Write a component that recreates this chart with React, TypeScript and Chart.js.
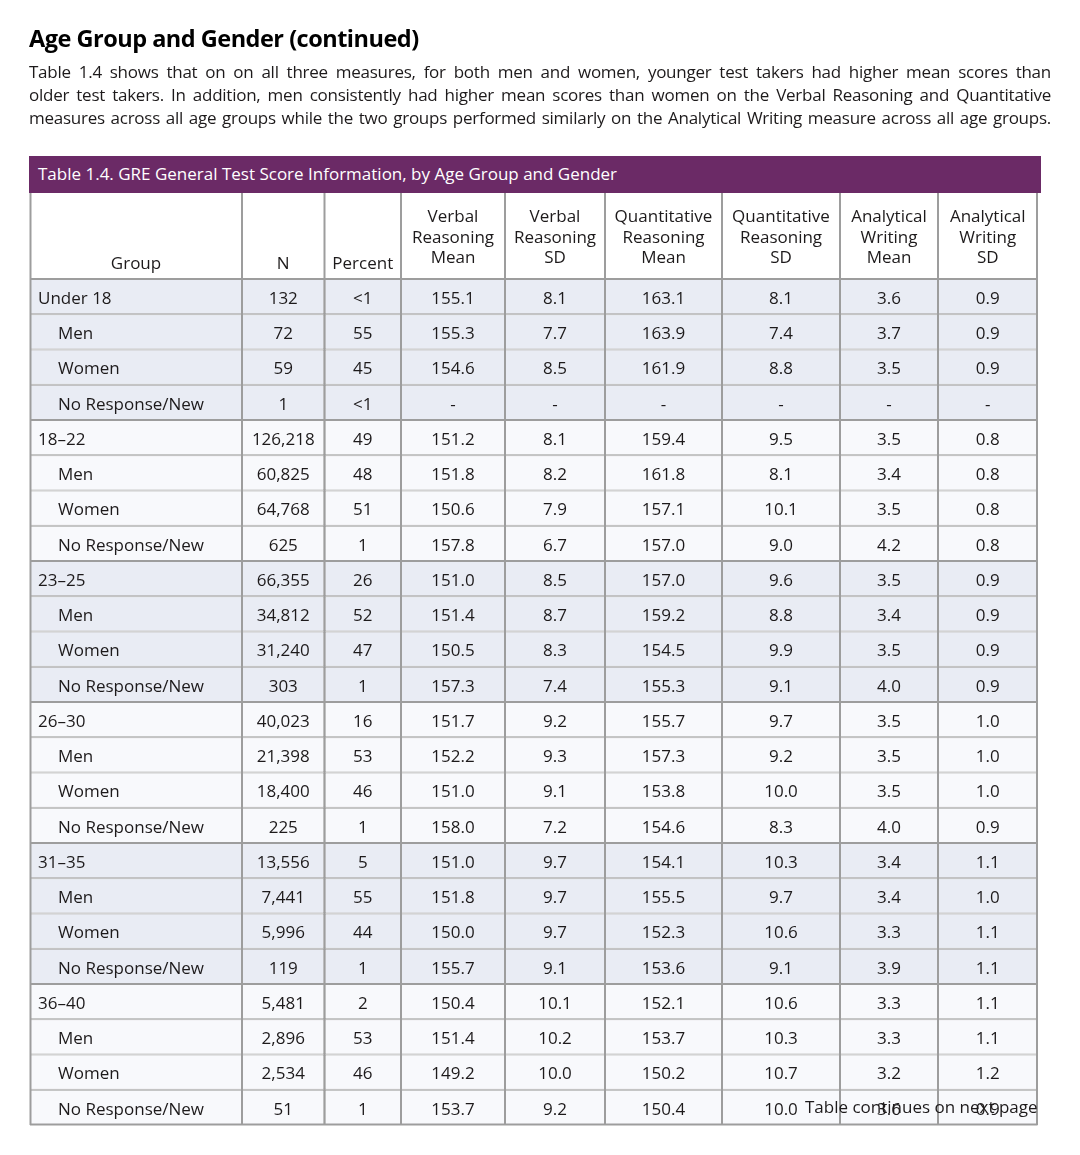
import React, { useEffect, useRef } from 'react';
import { Chart, registerables } from 'chart.js';

Chart.register(...registerables);

// ---------- text ----------
const TITLE = 'Age Group and Gender (continued)';
const PARAGRAPH = [
  'Table 1.4 shows that on on all three measures, for both men and women, younger test takers had higher mean scores than',
  'older test takers. In addition, men consistently had higher mean scores than women on the Verbal Reasoning and Quantitative',
  'measures across all age groups while the two groups performed similarly on the Analytical Writing measure across all age groups.',
];
const TABLE_TITLE = 'Table 1.4. GRE General Test Score Information, by Age Group and Gender';
const FOOT_NOTE = 'Table continues on next page';

// ---------- data ----------
const HEADERS = [
  ['Group'],
  ['N'],
  ['Percent'],
  ['Verbal', 'Reasoning', 'Mean'],
  ['Verbal', 'Reasoning', 'SD'],
  ['Quantitative', 'Reasoning', 'Mean'],
  ['Quantitative', 'Reasoning', 'SD'],
  ['Analytical', 'Writing', 'Mean'],
  ['Analytical', 'Writing', 'SD'],
];

const GROUPS = [
  'Under 18', 'Men', 'Women', 'No Response/New',
  '18–22', 'Men', 'Women', 'No Response/New',
  '23–25', 'Men', 'Women', 'No Response/New',
  '26–30', 'Men', 'Women', 'No Response/New',
  '31–35', 'Men', 'Women', 'No Response/New',
  '36–40', 'Men', 'Women', 'No Response/New',
];
const SUB_ROWS = ['Men', 'Women', 'No Response/New'];

const N = [132, 72, 59, 1, 126218, 60825, 64768, 625, 66355, 34812, 31240, 303, 40023, 21398, 18400, 225, 13556, 7441, 5996, 119, 5481, 2896, 2534, 51];
const PERCENT = ['<1', '55', '45', '<1', '49', '48', '51', '1', '26', '52', '47', '1', '16', '53', '46', '1', '5', '55', '44', '1', '2', '53', '46', '1'];
const VR_MEAN = [155.1, 155.3, 154.6, null, 151.2, 151.8, 150.6, 157.8, 151.0, 151.4, 150.5, 157.3, 151.7, 152.2, 151.0, 158.0, 151.0, 151.8, 150.0, 155.7, 150.4, 151.4, 149.2, 153.7];
const VR_SD = [8.1, 7.7, 8.5, null, 8.1, 8.2, 7.9, 6.7, 8.5, 8.7, 8.3, 7.4, 9.2, 9.3, 9.1, 7.2, 9.7, 9.7, 9.7, 9.1, 10.1, 10.2, 10.0, 9.2];
const QR_MEAN = [163.1, 163.9, 161.9, null, 159.4, 161.8, 157.1, 157.0, 157.0, 159.2, 154.5, 155.3, 155.7, 157.3, 153.8, 154.6, 154.1, 155.5, 152.3, 153.6, 152.1, 153.7, 150.2, 150.4];
const QR_SD = [8.1, 7.4, 8.8, null, 9.5, 8.1, 10.1, 9.0, 9.6, 8.8, 9.9, 9.1, 9.7, 9.2, 10.0, 8.3, 10.3, 9.7, 10.6, 9.1, 10.6, 10.3, 10.7, 10.0];
const AW_MEAN = [3.6, 3.7, 3.5, null, 3.5, 3.4, 3.5, 4.2, 3.5, 3.4, 3.5, 4.0, 3.5, 3.5, 3.5, 4.0, 3.4, 3.4, 3.3, 3.9, 3.3, 3.3, 3.2, 3.6];
const AW_SD = [0.9, 0.9, 0.9, null, 0.8, 0.8, 0.8, 0.8, 0.9, 0.9, 0.9, 0.9, 1.0, 1.0, 1.0, 0.9, 1.1, 1.0, 1.1, 1.1, 1.1, 1.1, 1.2, 0.9];

// ---------- layout / style ----------
const FONT = '"Open Sans", "Noto Sans", sans-serif';
const TEXT = '#1d1a1b';
const BORDER = '#9d9d9d';
const ROW_A = '#e9ecf4';
const ROW_B = '#f8f9fc';
const PURPLE = '#6b2a66';
const COL_WIDTHS = [212, 82.5, 76.5, 104, 100, 117, 118, 98, 99.5];
const TABLE_LEFT = 30;
const HEADER_TOP = 193;
const BODY_TOP = 279;
const BODY_BOTTOM = 1125;
const PAGE_W = 1080;
const PAGE_H = 1155;
const BODY_FONT_SIZE = 17;

const fmtN = (v: number) => v.toLocaleString('en-US');
const fmt1 = (v: number | null) => (v === null ? '-' : v.toFixed(1));

const CELL_TEXT: string[][] = [
  GROUPS,
  N.map(fmtN),
  PERCENT,
  VR_MEAN.map(fmt1),
  VR_SD.map(fmt1),
  QR_MEAN.map(fmt1),
  QR_SD.map(fmt1),
  AW_MEAN.map(fmt1),
  AW_SD.map(fmt1),
];

const totalWidth = COL_WIDTHS.reduce((a, b) => a + b, 0);

const tablePlugin = {
  id: 'tableCells',
  afterDatasetsDraw(chart: any) {
    const ctx = chart.ctx as CanvasRenderingContext2D;
    const yScale = chart.scales.y;
    const metas = HEADERS.map((_, j) => chart.getDatasetMeta(j));
    const edges: number[] = metas.map((m: any) => m.data[0].base);
    edges.push(metas[metas.length - 1].data[0].x);
    const left = edges[0];
    const right = edges[edges.length - 1];
    const bodyTop = chart.chartArea.top;
    const bodyBottom = chart.chartArea.bottom;

    ctx.save();
    // header block
    ctx.fillStyle = '#ffffff';
    ctx.fillRect(left, HEADER_TOP, right - left, bodyTop - HEADER_TOP);
    ctx.strokeStyle = BORDER;
    ctx.lineWidth = 2;
    ctx.beginPath();
    edges.forEach((x, k) => {
      const xx = k === 0 ? x + 0.5 : k === edges.length - 1 ? x - 0.5 : x;
      ctx.moveTo(xx, HEADER_TOP);
      ctx.lineTo(xx, bodyBottom);
    });
    ctx.moveTo(left, bodyTop);
    ctx.lineTo(right, bodyTop);
    ctx.moveTo(left, bodyBottom - 0.5);
    ctx.lineTo(right, bodyBottom - 0.5);
    ctx.stroke();

    ctx.fillStyle = TEXT;
    ctx.textBaseline = 'middle';
    ctx.textAlign = 'center';
    ctx.font = `${BODY_FONT_SIZE}px ${FONT}`;
    // header labels
    HEADERS.forEach((lines, j) => {
      const cx = (edges[j] + edges[j + 1]) / 2;
      if (lines.length === 1) {
        ctx.fillText(lines[0], cx, 264);
      } else {
        const lh = 20.5;
        const mid = (HEADER_TOP + bodyTop) / 2 + 2;
        lines.forEach((ln, k) => {
          ctx.fillText(ln, cx, mid + (k - (lines.length - 1) / 2) * lh);
        });
      }
    });

    // body cells
    GROUPS.forEach((g, i) => {
      const cy = yScale.getPixelForValue(i) + 2.5;
      ctx.textAlign = 'left';
      const indent = SUB_ROWS.includes(g) ? 28 : 8;
      ctx.fillText(g, edges[0] + indent, cy);
      ctx.textAlign = 'center';
      for (let j = 1; j < HEADERS.length; j++) {
        const el = metas[j].data[i];
        const cx = (el.x + el.base) / 2;
        ctx.fillText(CELL_TEXT[j][i], cx, cy);
      }
    });

    // overlapping footnote on last row
    ctx.textAlign = 'right';
    const lastY = yScale.getPixelForValue(GROUPS.length - 1);
    ctx.fillText(FOOT_NOTE, right, lastY + 0.5);
    ctx.restore();
  },
};

export default function App() {
  const ref = useRef<HTMLCanvasElement>(null);

  useEffect(() => {
    if (!ref.current) return;
    const chart = new Chart(ref.current, {
      type: 'bar',
      data: {
        labels: GROUPS,
        datasets: HEADERS.map((h, j) => ({
          label: h.join(' '),
          data: GROUPS.map(() => COL_WIDTHS[j]),
          backgroundColor: (c: any) => (Math.floor(c.dataIndex / 4) % 2 === 0 ? ROW_A : ROW_B),
          borderColor: BORDER,
          borderWidth: 1,
          borderSkipped: false,
          inflateAmount: 0,
          barPercentage: 1,
          categoryPercentage: 1,
        })),
      },
      options: {
        indexAxis: 'y',
        responsive: false,
        animation: false,
        events: [],
        layout: {
          padding: {
            left: TABLE_LEFT,
            right: PAGE_W - TABLE_LEFT - totalWidth,
            top: BODY_TOP,
            bottom: PAGE_H - BODY_BOTTOM,
          },
        },
        plugins: {
          legend: { display: false },
          tooltip: { enabled: false },
        },
        scales: {
          x: { type: 'linear', stacked: true, display: false, min: 0, max: totalWidth },
          y: { type: 'category', stacked: true, display: false },
        },
      } as any,
      plugins: [tablePlugin],
    });
    return () => chart.destroy();
  }, []);

  return (
    <div
      style={{
        position: 'absolute',
        left: 0,
        top: 0,
        width: PAGE_W,
        height: PAGE_H,
        background: '#ffffff',
        fontFamily: FONT,
        color: TEXT,
        overflow: 'hidden',
      }}
    >
      <canvas ref={ref} width={PAGE_W} height={PAGE_H} style={{ position: 'absolute', left: 0, top: 0 }} />
      <div
        style={{
          position: 'absolute',
          left: 29,
          top: 23,
          fontSize: 23.5,
          fontWeight: 700,
          lineHeight: '30px',
          whiteSpace: 'nowrap',
          color: '#000',
          letterSpacing: '-0.5px',
        }}
      >
        {TITLE}
      </div>
      {PARAGRAPH.map((line, k) => (
        <div
          key={k}
          style={{
            position: 'absolute',
            left: 29,
            top: 60 + k * 23,
            width: 1022,
            fontSize: 17,
            lineHeight: '23px',
            whiteSpace: 'nowrap',
            letterSpacing: '-0.25px',
            textAlign: 'justify',
            textAlignLast: 'justify',
          }}
        >
          {line}
        </div>
      ))}
      <div
        style={{
          position: 'absolute',
          left: 29,
          top: 156,
          width: 1012,
          height: 37,
          boxSizing: 'border-box',
          paddingLeft: 9,
          background: PURPLE,
          color: '#ffffff',
          fontSize: 17,
          lineHeight: '36px',
          whiteSpace: 'nowrap',
        }}
      >
        {TABLE_TITLE}
      </div>
    </div>
  );
}
